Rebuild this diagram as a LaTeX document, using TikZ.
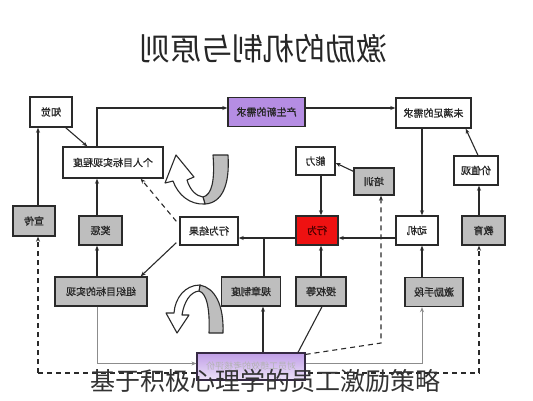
\documentclass[tikz,border=0pt]{standalone}
\usepackage{fontspec}
\usepackage{graphicx}
\newfontfamily\cjk{Noto Sans CJK SC}
\newfontfamily\cjkb[FakeBold=1.2]{Noto Sans CJK SC}
\usetikzlibrary{arrows.meta}
\newcommand\mir[1]{\reflectbox{#1}}
\definecolor{gfill}{HTML}{BEBEBE}
\definecolor{pfill}{HTML}{B58DE3}
\definecolor{rfill}{HTML}{EE1111}
\definecolor{lcol}{HTML}{2A2A2A}
\begin{document}
\begin{tikzpicture}[x=1pt,y=-1pt,
  font=\cjkb\fontsize{10}{10}\selectfont,
  basebox/.style={draw=lcol, line width=1.4pt, inner sep=0pt, text=black!85},
  wbox/.style={basebox, fill=white},
  gbox/.style={basebox, fill=gfill},
  pbox/.style={basebox, fill=pfill},
  rbox/.style={basebox, fill=rfill, text=black!70!red},
  conn/.style={draw=lcol, line width=1.1pt, -{Stealth[length=5pt,width=4pt]}},
  plain/.style={draw=lcol, line width=1.1pt},
  dconn/.style={draw=lcol, line width=1.1pt, dash pattern=on 5pt off 4pt, -{Stealth[length=5pt,width=4pt]}},
  gconn/.style={draw=black!45, line width=1pt, -{Stealth[length=5pt,width=4pt]}},
  ribbon/.style={draw=lcol, line width=1.1pt, line join=round}]
\useasboundingbox (0,0) rectangle (533,400);
\fill[white] (0,0) rectangle (533,400);

% title
\node[font=\cjk\fontsize{31}{31}\selectfont, text=black!85] (title) at (263,49) {\mir{激励的机制与原则}};

% nodes
\node[wbox, minimum width=42, minimum height=30] (zhijue) at (51,112) {\mir{知觉}};
\node[wbox, minimum width=100, minimum height=31] (geren) at (113,162.5) {\mir{个人目标实现程度}};
\node[pbox, minimum width=77, minimum height=29] (chansheng) at (266.5,112) {\mir{产生新的需求}};
\node[wbox, minimum width=75, minimum height=30] (weimanzu) at (433.5,113) {\mir{未满足的需求}};
\node[wbox, minimum width=44, minimum height=29] (jiazhiguan) at (476,170.5) {\mir{价值观}};
\node[wbox, minimum width=39, minimum height=28] (nengli) at (315.5,161) {\mir{能力}};
\node[gbox, minimum width=40, minimum height=27] (peixun) at (374,181.5) {\mir{培训}};
\node[rbox, minimum width=42, minimum height=29] (xingwei) at (317,230.5) {\mir{行为}};
\node[wbox, minimum width=42, minimum height=29] (dongji) at (417,230.5) {\mir{动机}};
\node[gbox, minimum width=43, minimum height=29] (jiaoyu) at (483.5,230.5) {\mir{教育}};
\node[wbox, minimum width=58, minimum height=28] (jieguo) at (209,231) {\mir{行为结果}};
\node[gbox, minimum width=42, minimum height=30] (xuanchuan) at (34,221) {\mir{宣传}};
\node[gbox, minimum width=43, minimum height=29] (jiangcheng) at (100.5,230.5) {\mir{奖惩}};
\node[gbox, minimum width=92, minimum height=29] (zuzhi) at (101,291.5) {\mir{组织目标的实现}};
\node[gbox, minimum width=59, minimum height=29] (guizhang) at (251,291.5) {\mir{规章制度}};
\node[gbox, minimum width=50, minimum height=29] (shouquan) at (321,291.5) {\mir{授权等}};
\node[gbox, minimum width=58, minimum height=29] (jili) at (434,292) {\mir{激励手段}};

% helper coordinates
\coordinate (c1) at ([xshift=4pt]xuanchuan.north);
\coordinate (c5) at ([xshift=5pt]dongji.north);
\coordinate (c7) at ([xshift=-4.5pt]jiaoyu.north);
\coordinate (c9) at ([xshift=4pt]xingwei.north);
\coordinate (c16) at ([xshift=-4pt]zuzhi.north);
\coordinate (c22) at ([xshift=7pt]peixun.south);
\coordinate (h1) at ([yshift=-7.5pt]xingwei.west);
\coordinate (k1) at (38,373);
\coordinate (k2) at (479,373);
\coordinate (k22) at (381,343);

% outer dashed loop
\draw[dconn] (k1) -- (c1 |- xuanchuan.south);
\draw[dconn] (k1) -- (k2) -- (c7 |- jiaoyu.south);

% bottom purple box
\node[basebox, draw=black!70!pfill, line width=1.2pt, top color=pfill!85, bottom color=pfill!25, minimum width=108, minimum height=27, text=black!30] (pingjia) at (251,366.5) {\mir{\cjk\fontsize{9}{9}\selectfont 对员工绩效的考核评价}};

% connectors
\draw[conn] (c1) -- (c1 |- zhijue.south);
\draw[conn] ([xshift=-7pt]zhijue.south east) -- ([xshift=25pt]geren.north west);
\draw[conn] ([xshift=-16pt]geren.north) |- ([yshift=4pt]chansheng.west);
\draw[conn] ([yshift=4pt]chansheng.east) -- ([yshift=4pt]chansheng.east -| weimanzu.west);
\draw[conn] (c5 |- weimanzu.south) -- (c5);
\draw[conn] ([xshift=2pt]jiazhiguan.north) -- ([xshift=-6pt]weimanzu.south east);
\draw[conn] (c7) -- (c7 |- jiazhiguan.south);
\draw[conn] ([yshift=-4pt]peixun.north west) -- ([yshift=-2pt]nengli.east);
\draw[conn] (c9 |- nengli.south) -- (c9);
\draw[conn] ([yshift=-7.5pt]dongji.west) -- ([yshift=-7.5pt]dongji.west -| xingwei.east);
\draw[conn] (h1) -- (h1 -| jieguo.east);
\draw[conn] (c5 |- jili.north) -- (c5 |- dongji.south);
\draw[conn] (c9 |- shouquan.north) -- (c9 |- xingwei.south);
\draw[plain] ([xshift=13pt]guizhang.north) coordinate (c14) -- (c14 |- h1);
\draw[conn] ([xshift=-3pt,yshift=3pt]jieguo.south west) -- ([xshift=-7pt]zuzhi.north east);
\draw[conn] (c16) -- (c16 |- jiangcheng.south);
\draw[conn] (c16 |- jiangcheng.north) -- (c16 |- geren.south);
\draw[dconn] ([xshift=-3pt,yshift=-5pt]jieguo.north west) -- ([xshift=-23pt]geren.south east);
\draw[gconn] (c16 |- zuzhi.south) |- ([yshift=3pt]pingjia.west);
\draw[gconn] ([yshift=3pt]pingjia.east) -| (c5 |- jili.south);
\draw[conn] ([xshift=12pt]pingjia.north) coordinate (c20) -- (c20 |- guizhang.south);
\draw[plain] ([xshift=47pt]pingjia.north) -- ([xshift=1pt]shouquan.south);
\draw[dconn] ([yshift=-2pt]pingjia.north east) -- (k22) -- (c22);

% upper curl
\draw[ribbon, fill=gfill] (213,155) -- (228,155) .. controls (230,185) and (222,203) .. (205,204)
  -- (203,197) .. controls (212,195) and (215,180) .. (213,155) -- cycle;
\draw[ribbon, fill=white] (205,204) .. controls (190,205) and (178,195) .. (173,181)
  -- (165,183) -- (176,155) -- (194,177) -- (187,180)
  .. controls (190,190) and (196,196) .. (203,197) -- cycle;

% lower curl
\draw[ribbon, fill=gfill] (209,333) -- (223,333) .. controls (224,305) and (215,288) .. (200,285)
  -- (199,291) .. controls (207,293) and (210,310) .. (209,333) -- cycle;
\draw[ribbon, fill=white] (200,285) .. controls (185,285) and (175,298) .. (174,313)
  -- (166,313) -- (177,333) -- (189,315) -- (182,315)
  .. controls (184,302) and (190,292) .. (199,291) -- cycle;

% caption
\node[font=\cjk\fontsize{25}{25}\selectfont, text=black!80] (caption) at (265,381) {基于积极心理学的员工激励策略};
\end{tikzpicture}
\end{document}
